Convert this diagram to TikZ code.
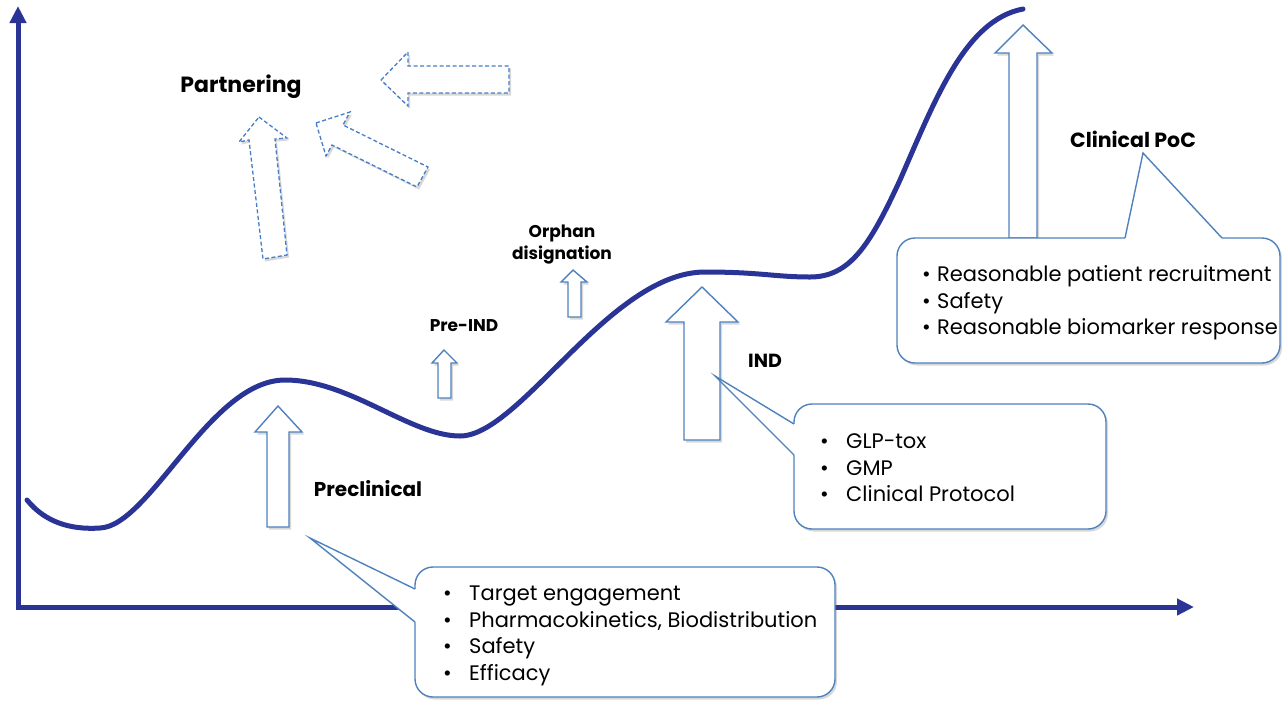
\documentclass[tikz,border=0pt]{standalone}
\usepackage{fontspec}
\setmainfont{Poppins}
\usetikzlibrary{arrows.meta,shadows}
\definecolor{axisblue}{RGB}{42,52,150}
\definecolor{lblue}{RGB}{79,129,189}
\definecolor{dblue}{RGB}{70,125,200}
\tikzset{
  shadowed/.style={drop shadow={shadow xshift=2pt,shadow yshift=-2.5pt,opacity=0.22,fill=black!70}},
  axisline/.style={draw=axisblue,line width=5pt},
  blockarrow/.style={draw=lblue,line width=1.4pt,fill=white,line join=miter,shadowed},
  dasharrow/.style={draw=dblue,line width=1.3pt,fill=white,line join=miter,dash pattern=on 4pt off 2.5pt,shadowed},
  callbox/.style={draw=lblue,line width=1.4pt,fill=white,rounded corners=18pt,shadowed,inner sep=0pt},
  callline/.style={draw=lblue,line width=1.4pt,line join=miter},
  phase/.style={font=\bfseries\fontsize{20}{24}\selectfont,inner sep=0pt},
  listtext/.style={font=\fontsize{21}{26.5}\selectfont,align=left,anchor=west,inner sep=0pt},
}
\begin{document}
\begin{tikzpicture}[x=1pt,y=-1pt]
\useasboundingbox (0,0) rectangle (1282,702);
% axes
\coordinate (origin) at (18,607);
\coordinate (ytip) at (18,6);
\coordinate (xtip) at (1194,607);
\draw[axisline,{Triangle[length=17pt,width=16pt]}-{Triangle[length=17pt,width=16pt]}] (ytip) -- (origin) -- (xtip);
% curve
\draw[draw=axisblue,line width=5pt,line cap=round]
  (27,500) .. controls (45,522) and (70,530) .. (100,528)
  .. controls (150,526) and (210,380) .. (285,380)
  .. controls (350,380) and (410,436) .. (460,436)
  .. controls (520,436) and (610,272) .. (705,272)
  .. controls (760,272) and (775,277) .. (810,277)
  .. controls (850,277) and (870,245) .. (900,180)
  .. controls (935,100) and (965,20) .. (1023,9);
% dashed partnering arrows
\draw[dasharrow] (381,80) -- (408,52) -- (408,66) -- (509,66) -- (509,93) -- (408,93) -- (408,106) -- cycle;
\draw[dasharrow] (316,123) -- (350,112) -- (343,125) -- (428,167) -- (417,187) -- (332,145) -- (326,156) -- cycle;
\draw[dasharrow] (259,117) -- (287,138) -- (275,139) -- (287,255) -- (263,259) -- (249,140) -- (239,142) -- cycle;
% block arrows
\draw[blockarrow] (278,406) -- (302,432) -- (289,432) -- (289,527) -- (267,527) -- (267,432) -- (255,432) -- cycle;
\draw[blockarrow] (444,350) -- (457,363) -- (451,363) -- (451,398) -- (438,398) -- (438,363) -- (432,363) -- cycle;
\draw[blockarrow] (573,270) -- (587,282) -- (581,282) -- (581,317) -- (568,317) -- (568,282) -- (561,282) -- cycle;
\draw[blockarrow] (702,287) -- (738,322) -- (720,322) -- (720,440) -- (684,440) -- (684,322) -- (666,322) -- cycle;
\draw[blockarrow] (1023,25) -- (1052,53) -- (1037,53) -- (1037,238) -- (1009,238) -- (1009,53) -- (995,53) -- cycle;
% callout boxes
\node[callbox,minimum width=420pt,minimum height=130pt] (precbox) at (625,632) {};
\coordinate (prectip) at (310,538);
\coordinate (preca) at (415,589);
\coordinate (precb) at (415,622);
\fill[white] (prectip) -- (preca) -- ++(2.5,0) -- ([xshift=2.5pt]precb) -- (precb) -- cycle;
\draw[callline] (preca) -- (prectip) -- (precb);

\node[callbox,minimum width=312pt,minimum height=125pt] (indbox) at (950,466.5) {};
\coordinate (indtip) at (715,376);
\coordinate (inda) at (794,424);
\coordinate (indb) at (794,455);
\fill[white] (indtip) -- (inda) -- ++(2.5,0) -- ([xshift=2.5pt]indb) -- (indb) -- cycle;
\draw[callline] (inda) -- (indtip) -- (indb);

\node[callbox,minimum width=383pt,minimum height=125pt] (pocbox) at (1088.5,300.5) {};
\coordinate (poctip) at (1143,153);
\coordinate (poca) at (1125,238);
\coordinate (pocb) at (1222,238);
\fill[white] (poctip) -- (poca) -- ++(0,2.5) -- ([yshift=-2.5pt]pocb) -- (pocb) -- cycle;
\draw[callline] (poca) -- (poctip) -- (pocb);
% list texts
\node[listtext] (preclist) at (443,636) {\makebox[26pt][l]{•}Target engagement\\ \makebox[26pt][l]{•}Pharmacokinetics, Biodistribution\\ \makebox[26pt][l]{•}Safety\\ \makebox[26pt][l]{•}Efficacy};
\node[listtext] (indlist) at (820,468) {\makebox[26pt][l]{•}GLP-tox\\ \makebox[26pt][l]{•}GMP\\ \makebox[26pt][l]{•}Clinical Protocol};
\node[listtext] (poclist) at (922,303) {\makebox[15pt][l]{•}Reasonable patient recruitment\\ \makebox[15pt][l]{•}Safety\\ \makebox[15pt][l]{•}Reasonable biomarker response};
% phase labels
\node[phase,font=\bfseries\fontsize{22}{26}\selectfont] (partnering) at (241,87) {Partnering};
\node[phase,font=\bfseries\fontsize{20.5}{24}\selectfont] (clinpoc) at (1133,139) {Clinical PoC};
\node[phase,font=\bfseries\fontsize{17}{22}\selectfont,align=center] (orphan) at (562,245) {Orphan\\disignation};
\node[phase,font=\bfseries\fontsize{17}{22}\selectfont] (preind) at (464,326) {Pre-IND};
\node[phase,font=\bfseries\fontsize{19}{22}\selectfont] (ind) at (765,361) {IND};
\node[phase] (preclinical) at (368,489) {Preclinical};
\end{tikzpicture}
\end{document}
